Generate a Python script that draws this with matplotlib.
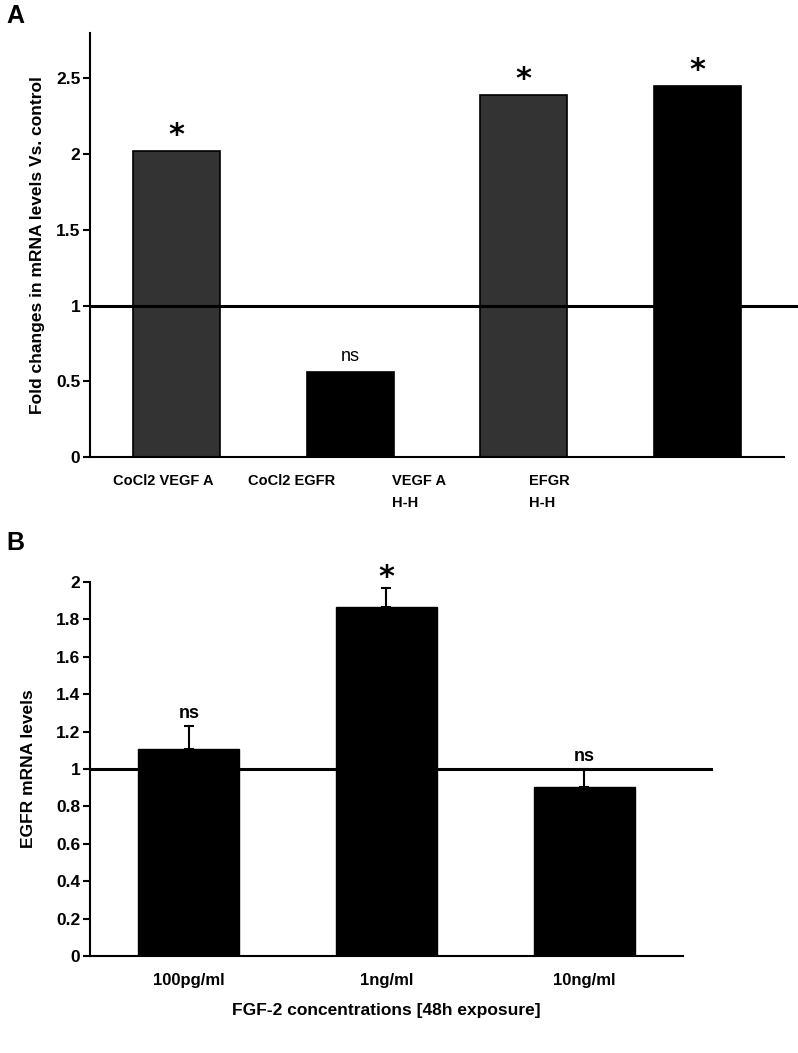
import numpy as np
import matplotlib
matplotlib.use("Agg")
from matplotlib import pyplot as plt

plt.rcParams['font.family'] = ['Liberation Sans Narrow', 'Liberation Sans', 'DejaVu Sans']
plt.rcParams['font.weight'] = 'bold'

# panel A data
a_labels = ["CoCl2 VEGF A", "CoCl2 EGFR", "VEGF A\nH-H", "EFGR\nH-H"]
a_values = [2.02, 0.56, 2.39, 2.45]
a_colors = ["#333333", "#000000", "#333333", "#000000"]
a_marks = ["*", "ns", "*", "*"]
a_ticks = [0, 0.5, 1, 1.5, 2, 2.5]
a_ticklabels = ["0", "0.5", "1", "1.5", "2", "2.5"]

# panel B data
b_labels = ["100pg/ml", "1ng/ml", "10ng/ml"]
b_values = [1.105, 1.865, 0.905]
b_err = [0.125, 0.105, 0.095]
b_marks = ["ns", "*", "ns"]
b_ticks = [0, 0.2, 0.4, 0.6, 0.8, 1, 1.2, 1.4, 1.6, 1.8, 2]
b_ticklabels = ["0", "0.2", "0.4", "0.6", "0.8", "1", "1.2", "1.4", "1.6", "1.8", "2"]

fig = plt.figure(figsize=(7.98, 10.53), dpi=100)

def style_axes(ax):
    for s in ['top', 'right']:
        ax.spines[s].set_visible(False)
    ax.spines['left'].set_linewidth(1.5)
    ax.spines['bottom'].set_linewidth(1.5)
    ax.tick_params(axis='y', direction='out', length=5, width=1.5, labelsize=12.5, pad=2)
    ax.tick_params(axis='x', length=0)

# ---- panel A
ax1 = fig.add_axes([0.1128, 0.566, 0.8697, 0.4027])
x1 = np.arange(len(a_values))
ax1.bar(x1, a_values, width=0.5, color=a_colors, edgecolor='black', linewidth=1.2, zorder=2)
ax1.plot([-0.5, 3.59], [1, 1], color='black', lw=2.2, clip_on=False, zorder=3)
ax1.set_xlim(-0.5, 3.5)
ax1.set_ylim(0, 2.8)
ax1.set_yticks(a_ticks)
ax1.set_yticklabels(a_ticklabels)
ax1.set_xticks([])
style_axes(ax1)
ax1.set_ylabel("Fold changes in mRNA levels Vs. control", fontsize=12.5, fontweight='bold', labelpad=8)
label_shift = [-0.367, 0.413, 1.24, 2.03]
for i, lab in enumerate(a_labels):
    ax1.text(label_shift[i], -0.04, lab, ha='left', va='top', fontsize=10.5,
             fontweight='bold', linespacing=1.7, transform=ax1.get_xaxis_transform())
for i, m in enumerate(a_marks):
    if m == "*":
        ax1.annotate(m, (x1[i], a_values[i]), xytext=(0, 1), textcoords='offset points',
                     ha='center', va='bottom', fontsize=22, fontweight='bold', family='DejaVu Sans')
    else:
        ax1.annotate(m, (x1[i], a_values[i]), xytext=(0, 5), textcoords='offset points',
                     ha='center', va='bottom', fontsize=13, fontweight='normal')

# ---- panel B
ax2 = fig.add_axes([0.1128, 0.0921, 0.743, 0.3552])
x2 = np.arange(len(b_values))
ax2.plot([-0.5, 2.64], [1, 1], color='black', lw=2.2, clip_on=False, zorder=1)
ax2.bar(x2, b_values, width=0.51, color='black', edgecolor='black', zorder=2)
ax2.errorbar(x2, b_values, yerr=[np.zeros(len(b_err)), b_err], fmt='none',
             ecolor='black', elinewidth=1.5, capsize=3.6, capthick=1.5, zorder=3)
ax2.set_xlim(-0.5, 2.5)
ax2.set_ylim(0, 2)
ax2.set_yticks(b_ticks)
ax2.set_yticklabels(b_ticklabels)
ax2.set_xticks(x2)
ax2.set_xticklabels(b_labels, fontsize=12, fontweight='bold')
style_axes(ax2)
ax2.tick_params(axis='x', pad=12)
ax2.set_ylabel("EGFR mRNA levels", fontsize=12.5, fontweight='bold', labelpad=14)
ax2.set_xlabel("FGF-2 concentrations [48h exposure]", fontsize=12.5, fontweight='bold', labelpad=11)
for i, m in enumerate(b_marks):
    top = b_values[i] + b_err[i]
    if m == "*":
        ax2.annotate(m, (x2[i], top), xytext=(0, -3), textcoords='offset points',
                     ha='center', va='bottom', fontsize=22, fontweight='bold', family='DejaVu Sans')
    else:
        ax2.annotate(m, (x2[i], top), xytext=(0, 3), textcoords='offset points',
                     ha='center', va='bottom', fontsize=13, fontweight='bold')

fig.text(0.008, 0.985, "A", fontsize=18, fontweight='bold', family='Liberation Sans', va='center')
fig.text(0.008, 0.484, "B", fontsize=18, fontweight='bold', family='Liberation Sans', va='center')

fig.savefig("out.png", dpi=100)
